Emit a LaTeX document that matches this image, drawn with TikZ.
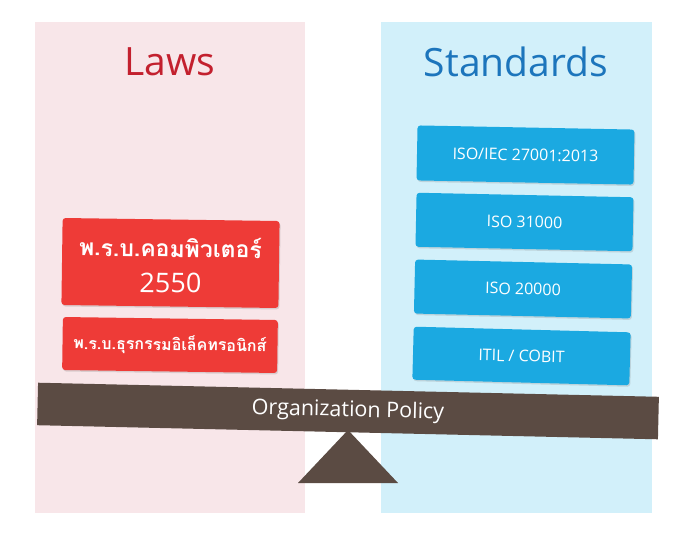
\documentclass[tikz,border=0pt]{standalone}
\usepackage{fontspec}
\setmainfont{Open Sans}
\newfontfamily\thaifont[Script=Thai]{Loma}
\usetikzlibrary{shadows}
\definecolor{lawbg}{HTML}{F8E6E9}
\definecolor{stdbg}{HTML}{D2F0FA}
\definecolor{lawtitle}{HTML}{C3202E}
\definecolor{stdtitle}{HTML}{1C75BC}
\definecolor{redbox}{HTML}{EE3B37}
\definecolor{bluebox}{HTML}{1BA9E1}
\definecolor{beam}{HTML}{5B4B43}
\tikzset{
  lawbox/.style={fill=redbox, rounded corners=3pt, text=white, align=center, inner sep=0pt,
    drop shadow={shadow xshift=1pt, shadow yshift=-1.5pt, opacity=0.25}},
  stdbox/.style={fill=bluebox, rounded corners=3pt, text=white, align=center, inner sep=0pt,
    minimum width=217pt, font=\fontsize{16}{19}\selectfont,
    drop shadow={shadow xshift=1pt, shadow yshift=-1.5pt, opacity=0.25}},
  title/.style={font=\fontsize{39}{46}\selectfont}
}
\begin{document}
\begin{tikzpicture}[x=1pt,y=-1pt]
\useasboundingbox (0,0) rectangle (688,543);
\fill[white] (0,0) rectangle (688,543);
\fill[lawbg] (35,22) rectangle (305,513);
\fill[stdbg] (381,22) rectangle (652,513);

\node[title, text=lawtitle] (laws) at (170,62) {Laws};
\node[title, text=stdtitle] (stds) at (516,62) {Standards};

\node[lawbox, minimum width=217pt, minimum height=87pt, rotate=-0.8] (cc) at (170.5,263) {};
\node[text=white, rotate=-0.8, inner sep=0pt, font=\thaifont\bfseries\fontsize{23}{28}\selectfont]
  (ccl1) at (170.5,247) {พ.ร.บ.คอมพิวเตอร์};
\node[text=white, rotate=-0.8, inner sep=0pt, font=\fontsize{27}{32}\selectfont]
  (ccl2) at (170.5,283) {2550};
\node[lawbox, minimum width=215pt, minimum height=53pt, rotate=-0.8] (et) at (170,345)
  {\thaifont\bfseries\fontsize{16}{20}\selectfont พ.ร.บ.ธุรกรรมอิเล็คทรอนิกส์};

\node[stdbox, minimum height=55pt, rotate=-1.1] (iso27) at (525.5,155) {ISO/IEC 27001:2013};
\node[stdbox, minimum height=54pt, rotate=-1.2] (iso31) at (524.5,222) {ISO 31000};
\node[stdbox, minimum height=54pt, rotate=-1.3] (iso20) at (523,289) {ISO 20000};
\node[stdbox, minimum height=53pt, rotate=-1.5] (itil) at (521.5,356) {ITIL / COBIT};

\coordinate (apex) at (348,430);
\coordinate (bl) at (298,483);
\coordinate (br) at (398,483);
\fill[beam] (apex) -- (br) -- (bl) -- cycle;

\node[fill=beam, minimum width=621pt, minimum height=42.5pt, inner sep=0pt, rotate=-1.3,
  text=white, font=\fontsize{21.5}{26}\selectfont] (policy) at (348,411) {Organization Policy};
\end{tikzpicture}
\end{document}
